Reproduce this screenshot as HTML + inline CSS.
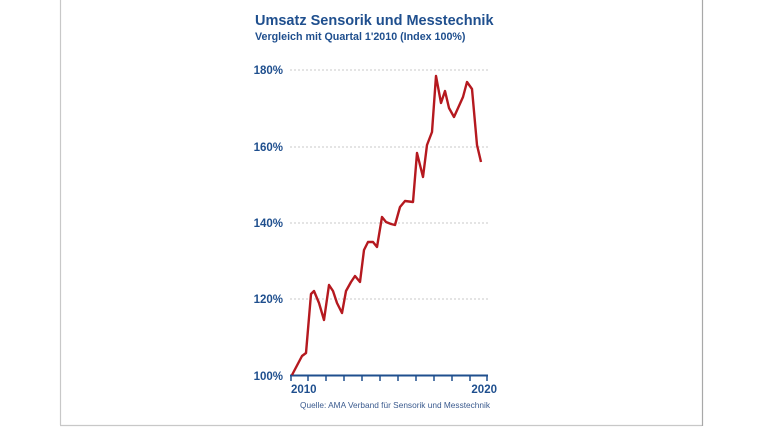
<!DOCTYPE html>
<html><head><meta charset="utf-8"><style>
html,body{margin:0;padding:0;background:#fff;width:760px;height:427px;overflow:hidden}
</style></head><body>
<svg width="760" height="427" xmlns="http://www.w3.org/2000/svg" font-family="Liberation Sans, sans-serif">
<line x1="60.5" y1="0" x2="60.5" y2="425" stroke="#c8c8c8" stroke-width="1.2"/>
<line x1="60" y1="425.5" x2="702" y2="425.5" stroke="#c8c8c8" stroke-width="1.2"/>
<line x1="702.5" y1="0" x2="702.5" y2="426" stroke="#a8a8a8" stroke-width="1.2"/>
<text x="255" y="25" font-size="14.5" font-weight="bold" fill="#1f4f8e">Umsatz Sensorik und Messtechnik</text>
<text x="255" y="40" font-size="10.7" font-weight="bold" fill="#1f4f8e">Vergleich mit Quartal 1'2010 (Index 100%)</text>
<g stroke="#c8c8c8" stroke-dasharray="2,2" stroke-width="1">
<line x1="290" y1="70" x2="488" y2="70"/><line x1="290" y1="147" x2="488" y2="147"/>
<line x1="290" y1="223" x2="488" y2="223"/><line x1="290" y1="299" x2="488" y2="299"/>
</g>
<g font-size="11.5" font-weight="bold" fill="#1f4f8e" text-anchor="end">
<text x="283" y="74">180%</text><text x="283" y="151">160%</text>
<text x="283" y="227">140%</text><text x="283" y="303">120%</text><text x="283" y="380">100%</text>
</g>
<line x1="290" y1="375.5" x2="488" y2="375.5" stroke="#1f4f8e" stroke-width="2"/>
<g stroke="#1f4f8e" stroke-width="1.5">
<line x1="291" y1="375" x2="291" y2="381"/><line x1="308" y1="375" x2="308" y2="381"/>
<line x1="326" y1="375" x2="326" y2="381"/><line x1="344" y1="375" x2="344" y2="381"/>
<line x1="362" y1="375" x2="362" y2="381"/><line x1="380" y1="375" x2="380" y2="381"/>
<line x1="398" y1="375" x2="398" y2="381"/><line x1="416" y1="375" x2="416" y2="381"/>
<line x1="434" y1="375" x2="434" y2="381"/><line x1="452" y1="375" x2="452" y2="381"/>
<line x1="470" y1="375" x2="470" y2="381"/><line x1="487" y1="375" x2="487" y2="381"/>
</g>
<text x="291" y="393" font-size="11.5" font-weight="bold" fill="#1f4f8e">2010</text>
<text x="497" y="393" font-size="11.5" font-weight="bold" fill="#1f4f8e" text-anchor="end">2020</text>
<text x="300" y="408" font-size="8.3" fill="#3a5a8e">Quelle: AMA Verband für Sensorik und Messtechnik</text>
<polyline fill="none" stroke="#b5191f" stroke-width="2.4" stroke-linejoin="round"
points="292,375 302,356 306,353 311,294 314,291 319,303 324,320 329,285 333,291 337,303 342,313 346,291 351,282 355,276 360,282 364,250 368,242 373,242 377,247 382,217 386,222 391,224 395,225 400,207 405,201 413,202 417,153 423,177 427,145 432,132 436,76 441,103 445,91 449,108 454,117 463,97 467,82 472,89 477,145 481,162"/>
</svg>
</body></html>
